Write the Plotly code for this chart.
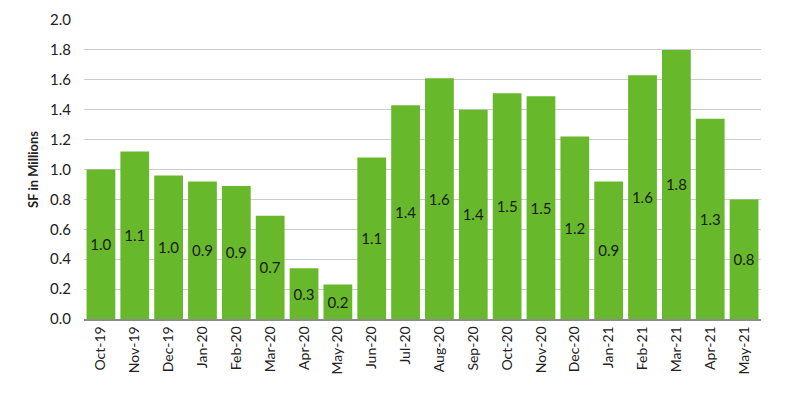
import plotly.graph_objects as go

months = ["Oct-19", "Nov-19", "Dec-19", "Jan-20", "Feb-20", "Mar-20", "Apr-20", "May-20",
          "Jun-20", "Jul-20", "Aug-20", "Sep-20", "Oct-20", "Nov-20", "Dec-20", "Jan-21",
          "Feb-21", "Mar-21", "Apr-21", "May-21"]
sf_millions = [1.00, 1.12, 0.96, 0.92, 0.89, 0.69, 0.34, 0.23,
               1.08, 1.43, 1.61, 1.40, 1.51, 1.49, 1.22, 0.92,
               1.63, 1.80, 1.34, 0.80]
y_ticks = [0.0, 0.2, 0.4, 0.6, 0.8, 1.0, 1.2, 1.4, 1.6, 1.8, 2.0]

fig = go.Figure(go.Bar(
    x=months, y=sf_millions,
    marker=dict(color="#68b82c", line=dict(width=0)),
    text=[f"{v:.1f}" for v in sf_millions],
    textposition="inside", insidetextanchor="middle",
    textfont=dict(color="#1a1a1a", size=15, family="Lato"),
    textangle=0,
))

fig.update_layout(
    width=792, height=391,
    margin=dict(l=76, r=39, t=12, b=80, autoexpand=False),
    paper_bgcolor="white", plot_bgcolor="white",
    bargap=0.15,
    showlegend=False,
    font=dict(family="Lato", color="#222222"),
)
fig.update_xaxes(
    tickangle=-90, tickfont=dict(size=14, color="#222222"),
    showline=True, linecolor="#8c8c8c", linewidth=1.5,
    ticks="", showgrid=False, automargin=False,
)
fig.update_yaxes(
    range=[0, 2.0], tickvals=y_ticks, ticktext=[f"{v:.1f}" for v in y_ticks],
    tickfont=dict(size=15, color="#222222"),
    showgrid=True, gridcolor="#cccccc", gridwidth=1.2,
    zeroline=False, ticks="", ticklabelstandoff=12, automargin=False,
    title=dict(text="<b>SF in Millions</b>", font=dict(size=13, color="#222222"), standoff=8),
)

fig.write_html("out.html")
